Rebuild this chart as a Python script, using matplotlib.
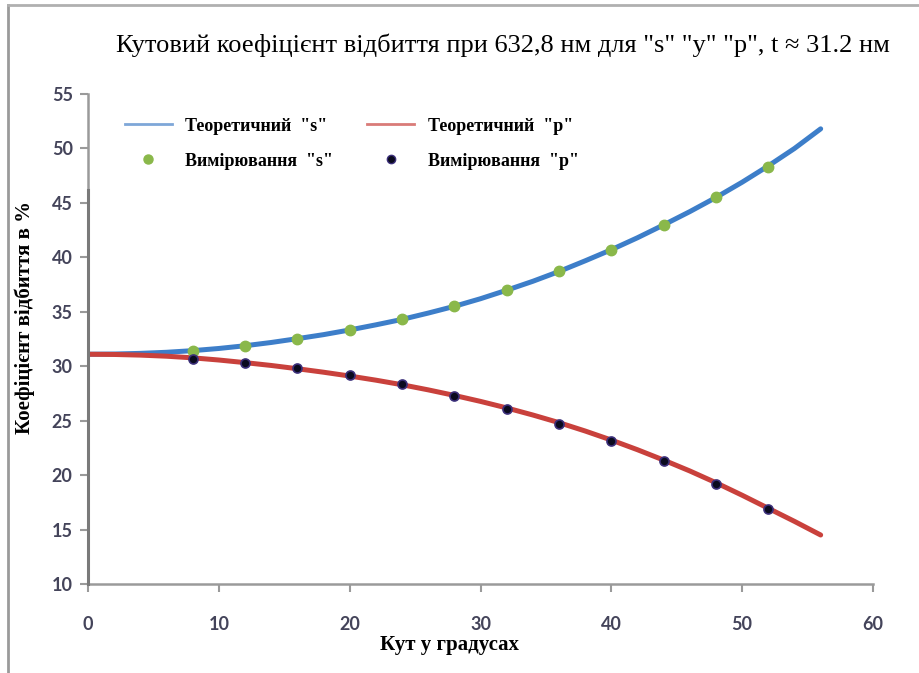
import matplotlib
matplotlib.use("Agg")
import matplotlib.pyplot as plt
from matplotlib.lines import Line2D

# ---- data ----
theory_angle = [0, 2, 4, 6, 8, 10, 12, 14, 16, 18, 20, 22, 24, 26, 28, 30,
                32, 34, 36, 38, 40, 42, 44, 46, 48, 50, 52, 54, 56]
theory_s = [31.1, 31.12, 31.18, 31.28, 31.43, 31.63, 31.88, 32.18, 32.53, 32.9,
            33.33, 33.8, 34.3, 34.88, 35.5, 36.2, 36.98, 37.8, 38.7, 39.68,
            40.7, 41.8, 42.98, 44.2, 45.5, 46.9, 48.4, 50.0, 51.8]
theory_p = [31.1, 31.08, 31.02, 30.92, 30.77, 30.57, 30.33, 30.07, 29.77, 29.45,
            29.1, 28.72, 28.3, 27.83, 27.32, 26.77, 26.17, 25.52, 24.82, 24.05,
            23.22, 22.33, 21.38, 20.38, 19.3, 18.15, 16.95, 15.75, 14.5]
meas_angle = [8, 12, 16, 20, 24, 28, 32, 36, 40, 44, 48, 52]
meas_s = [31.4, 31.9, 32.5, 33.3, 34.3, 35.5, 37.0, 38.7, 40.7, 43.0, 45.5, 48.3]
meas_p = [30.7, 30.3, 29.8, 29.2, 28.4, 27.3, 26.1, 24.7, 23.1, 21.3, 19.2, 16.9]
x_ticks = [0, 10, 20, 30, 40, 50, 60]
y_ticks = [10, 15, 20, 25, 30, 35, 40, 45, 50, 55]

title = 'Кутовий коефіцієнт відбиття при 632,8 нм для "s" "у" "р", t ≈ 31.2 нм'
xlabel = 'Кут у градусах'
ylabel = 'Коефіцієнт відбиття в %'
labels = ['Теоретичний  "s"', 'Теоретичний  "p"', 'Вимірювання  "s"', 'Вимірювання  "p"']

W, H = 919, 673
fig = plt.figure(figsize=(W / 100, H / 100), dpi=100)
fig.patch.set_facecolor('white')

ax = fig.add_axes([88 / W, 1 - 584 / H, (873 - 88) / W, (584 - 94) / H])

blue = '#3d7ec9'
red = '#c9413c'
green = '#8ab84a'

ax.plot(theory_angle, theory_s, color=blue, lw=3.6, solid_capstyle='round', zorder=2)
ax.plot(theory_angle, theory_p, color=red, lw=3.6, solid_capstyle='round', zorder=2)
ax.plot(meas_angle, meas_s, 'o', color=green, ms=7.5, mec=green, zorder=3)
ax.plot(meas_angle, meas_p, 'o', color='#0a0a1e', ms=6.5, mec='#3b2f7a', mew=1.2, zorder=3)

ax.set_xlim(0, 60)
ax.set_ylim(10, 55)
ax.set_xticks(x_ticks)
ax.set_yticks(y_ticks)

for s in ['top', 'right']:
    ax.spines[s].set_visible(False)
for s in ['left', 'bottom']:
    ax.spines[s].set_color('#9a9a9a')
    ax.spines[s].set_linewidth(1.8)
# darker lower part of the y axis line
ax.plot([0, 0], [10, 46.2], color='#7a7a7a', lw=2.2, clip_on=False, zorder=4)

ax.tick_params(axis='both', direction='out', length=6, width=1.5, color='#9a9a9a',
               labelsize=13, labelcolor='#44445a')
ax.tick_params(axis='x', pad=17)
ax.tick_params(axis='y', pad=5)
for lab in ax.get_xticklabels() + ax.get_yticklabels():
    lab.set_fontfamily('Lato')
    lab.set_fontweight('bold')

handles = [Line2D([], [], color='#7ea7d8', lw=2),
           Line2D([], [], marker='o', ls='none', color=green, ms=6.5),
           Line2D([], [], color='#d97b78', lw=2),
           Line2D([], [], marker='o', ls='none', color='#0a0a1e', mec='#3b2f7a', ms=6)]
leg = ax.legend(handles, [labels[0], labels[2], labels[1], labels[3]], ncol=2,
                loc='upper left', bbox_to_anchor=(0.026, 0.985), frameon=False,
                prop={'family': 'Liberation Serif', 'weight': 'bold', 'size': 13},
                handlelength=2.6, handletextpad=0.75, columnspacing=1.9,
                labelspacing=1.0)

fig.text(503 / W, 1 - 45 / H, title, ha='center', va='center',
         family='Liberation Serif', fontsize=19)
fig.text(450 / W, 1 - 645 / H, xlabel, ha='center', va='center',
         family='Liberation Serif', weight='bold', fontsize=15)
fig.text(25 / W, 1 - 317 / H, ylabel, ha='center', va='center', rotation=90,
         family='Liberation Serif', weight='bold', fontsize=15)

# screenshot frame
fig.add_artist(Line2D([8 / W, 8 / W], [0, 1 - 5 / H], transform=fig.transFigure,
                      color='#9a9a9a', lw=2))
fig.add_artist(Line2D([8 / W, 1], [1 - 5 / H, 1 - 5 / H], transform=fig.transFigure,
                      color='#b0b0b0', lw=2))

fig.savefig('out.png', dpi=100)
